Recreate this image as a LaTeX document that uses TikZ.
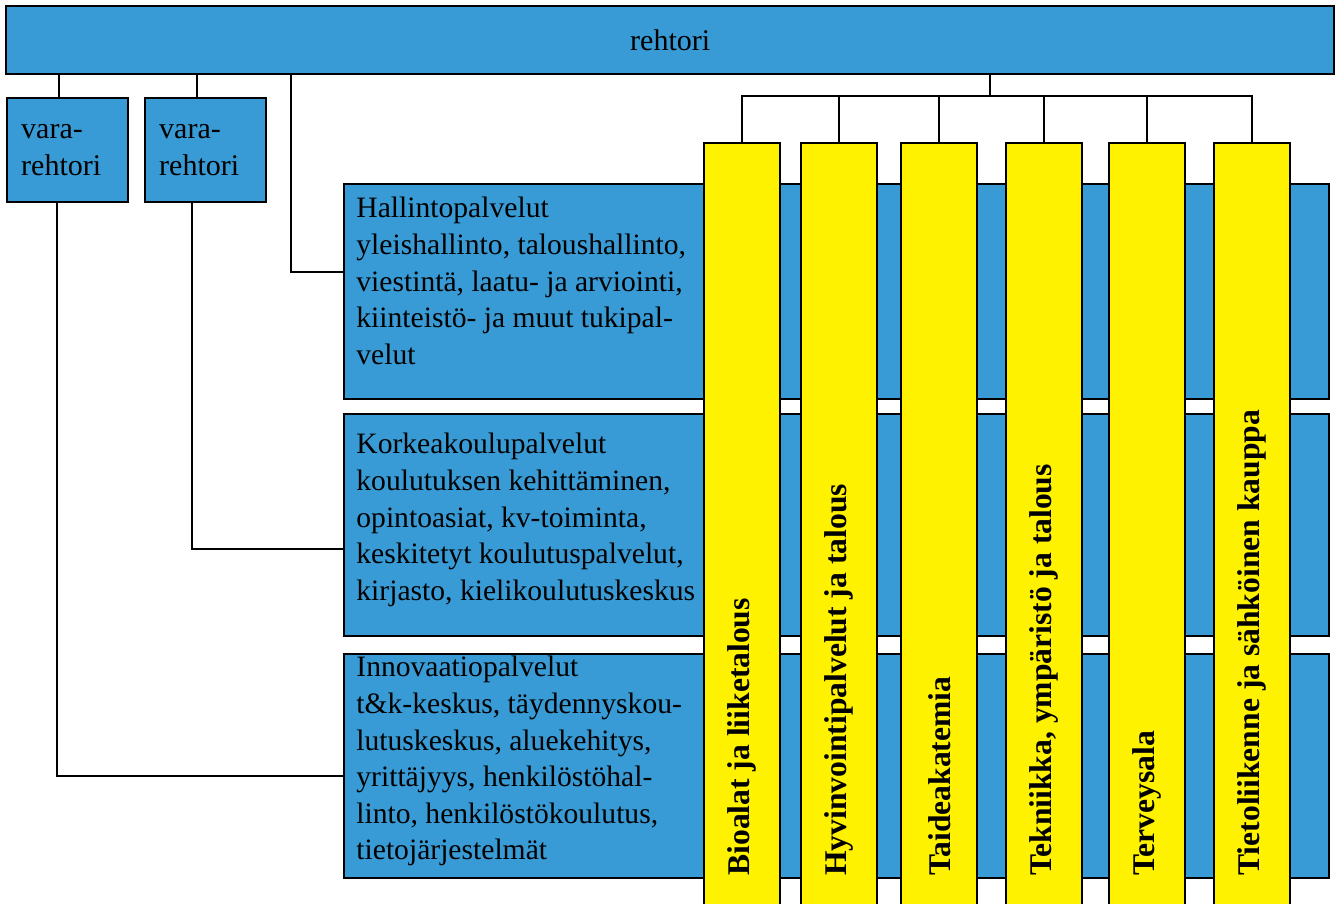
\documentclass[tikz,border=0pt]{standalone}
\usepackage{fontspec}
\setmainfont{Liberation Serif}
\usetikzlibrary{positioning}
\definecolor{orgblue}{RGB}{56,155,214}
\definecolor{orgyellow}{RGB}{255,242,0}
\tikzset{
  box/.style={draw=black, line width=1.2pt, fill=orgblue, inner sep=0pt, anchor=north west,
    font=\fontsize{15}{18.3}\selectfont},
  column/.style={draw=black, line width=1.2pt, fill=orgyellow, minimum width=38pt,
    minimum height=385pt, anchor=north west, inner sep=0pt},
  rowtext/.style={align=left, inner sep=0pt, font=\fontsize{14.8}{18.3}\selectfont},
  collabel/.style={rotate=90, anchor=west, inner sep=0pt, font=\fontsize{15.8}{18}\selectfont\bfseries},
  link/.style={line width=1.1pt}
}
\begin{document}
\begin{tikzpicture}[x=0.5pt, y=-0.5pt]
  \useasboundingbox (0,0) rectangle (1340,904);
  \node[box, minimum width=664pt, minimum height=34pt] (rehtori) at (5,5) {rehtori};
  \node[box, minimum height=52pt, inner xsep=7pt, text width=46.5pt, align=left] (vara1) at (6,97) {vara-\\rehtori};
  \node[box, minimum height=52pt, inner xsep=7pt, text width=46.5pt, align=left] (vara2) at (144,97) {vara-\\rehtori};

  \node[box, minimum width=492.5pt, minimum height=107.5pt] (hallinto) at (343,183) {};
  \node[box, minimum width=492.5pt, minimum height=111pt] (korkea) at (343,413) {};
  \node[box, minimum width=492.5pt, minimum height=112pt] (innovaatio) at (343,653) {};

  \node[rowtext, below right=7pt and 6.5pt of hallinto.north west] (hallinto-txt)
    {Hallintopalvelut\\yleishallinto, taloushallinto,\\viestintä, laatu- ja arviointi,\\kiinteistö- ja muut tukipal-\\velut};
  \node[rowtext, below right=10pt and 6.5pt of korkea.north west] (korkea-txt)
    {Korkeakoulupalvelut\\koulutuksen kehittäminen,\\opintoasiat, kv-toiminta,\\keskitetyt koulutuspalvelut,\\kirjasto, kielikoulutuskeskus};
  \node[rowtext, below right=1.5pt and 6.5pt of innovaatio.north west] (innovaatio-txt)
    {Innovaatiopalvelut\\t\&k-keskus, täydennyskou-\\lutuskeskus, aluekehitys,\\yrittäjyys, henkilöstöhal-\\linto, henkilöstökoulutus,\\tietojärjestelmät};

  \coordinate (base) at (0,876);
  \coordinate (bus) at (990,96);
  \foreach \name/\x/\label in {bio/703/Bioalat ja liiketalous, hyv/800/Hyvinvointipalvelut ja talous,
      tai/900/Taideakatemia, tek/1005/{Tekniikka, ympäristö ja talous}, ter/1108/Terveysala,
      tie/1213/Tietoliikenne ja sähköinen kauppa} {
    \node[column] (\name) at (\x,142) {};
    \node[collabel] (\name-txt) at (\name |- base) {\label};
  }

  \begin{scope}[link]
    \draw (rehtori.south -| bus) -- (bus);
    \foreach \name in {bio,hyv,tai,tek,ter,tie}
      \draw (\name.north) |- (bus);
    \draw ([xshift=-4.5pt]vara1.north) -- ([xshift=-4.5pt]vara1.north |- rehtori.south);
    \draw ([xshift=-4.5pt]vara2.north) -- ([xshift=-4.5pt]vara2.north |- rehtori.south);
    \draw ([xshift=-189.5pt]rehtori.south) |- ([yshift=10pt]hallinto.west);
    \draw ([xshift=-6.75pt]vara2.south) |- ([yshift=-12pt]korkea.west);
    \draw ([xshift=-5.5pt]vara1.south) |- ([yshift=-5pt]innovaatio.west);
  \end{scope}
\end{tikzpicture}
\end{document}
